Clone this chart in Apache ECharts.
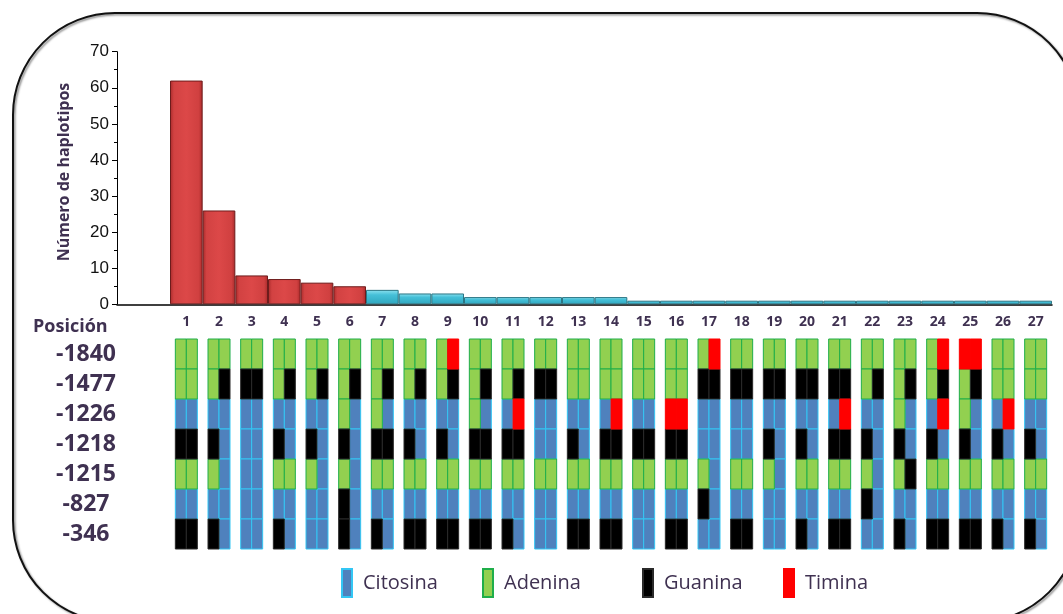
<!DOCTYPE html>
<html>
<head>
<meta charset="utf-8">
<script src="https://cdn.jsdelivr.net/npm/echarts@6/dist/echarts.min.js"></script>
<style>
  html, body { margin: 0; padding: 0; background: #fff; }
  #chart { width: 1063px; height: 614px; }
</style>
</head>
<body>
<div id="chart"></div>
<script>
// Haplotype identifiers (bar categories / genotype columns)
const haplotypes = ['1','2','3','4','5','6','7','8','9','10','11','12','13','14',
  '15','16','17','18','19','20','21','22','23','24','25','26','27'];

// Number of individuals carrying each haplotype
const haplotypeCounts = [62, 26, 8, 7, 6, 5, 4, 3, 3, 2, 2, 2, 2, 2,
  1, 1, 1, 1, 1, 1, 1, 1, 1, 1, 1, 1, 1];

// Promoter positions (rows of the genotype panel)
const positions = ['-1840', '-1477', '-1226', '-1218', '-1215', '-827', '-346'];

// Genotype per haplotype, one two-letter code per position (left / right allele)
const genotypes = [
  ['AA','AA','CC','GG','AA','CC','GG'],
  ['AA','AG','CC','GC','AC','CC','GC'],
  ['AA','GG','CC','CC','CC','CC','CC'],
  ['AA','AG','CC','GC','AA','CC','GC'],
  ['AA','AG','CC','GC','AC','CC','CC'],
  ['AA','AG','AC','GC','AC','GC','GC'],
  ['AA','AG','AC','GG','AA','CC','GC'],
  ['AA','AG','CC','GC','AA','CC','GG'],
  ['AT','AG','CC','GC','AA','CC','GG'],
  ['AA','AG','AC','GG','AA','CC','GG'],
  ['AA','AG','CT','GG','AA','CC','GC'],
  ['AA','GG','CC','CC','AA','CC','CC'],
  ['AA','AA','CC','GC','AA','CC','GG'],
  ['AA','AA','CT','GG','AA','CC','GG'],
  ['AA','AA','CC','GG','AA','CC','CC'],
  ['AA','AA','TT','GG','AA','CC','GG'],
  ['AT','GG','CC','CC','AC','GC','CC'],
  ['AA','GG','CC','CC','AA','CC','GG'],
  ['AA','GG','CC','GC','AC','CC','CC'],
  ['AA','GG','CC','GC','AA','CC','GC'],
  ['AA','GG','CT','GG','AA','CC','GG'],
  ['AA','AG','CC','GC','AC','GC','CC'],
  ['AA','AG','AC','GC','AG','CC','GC'],
  ['AT','AG','CT','GC','AA','CC','GG'],
  ['TT','AG','AC','GC','AA','CC','GG'],
  ['AA','AA','CT','GC','AA','CC','GC'],
  ['AA','AA','CC','GC','AA','CC','GC']
];

// Nucleotide codes and their legend names
const baseCodes = ['C', 'A', 'G', 'T'];
const baseNames = ['Citosina', 'Adenina', 'Guanina', 'Timina'];

// ---- styling ----
const baseStyle = {
  C: { fill: '#4f81bd', stroke: '#33c6f4' },
  A: { fill: '#92d050', stroke: '#1fae4a' },
  G: { fill: '#000000', stroke: '#2a2a2a' },
  T: { fill: '#ff0000', stroke: '#ff0000' }
};
const labelColor = '#3f3151';
const frequentCount = 6; // leading haplotypes drawn in red

// layout (pixels)
const plotLeft = 117, plotRight = 1052, firstBarLeft = 170;
const plotTop = 51.7, plotBottom = 304.3;
const step = (plotRight - firstBarLeft) / haplotypes.length;
const xMin = 0.5 - (firstBarLeft - plotLeft) / step;
const cellWidth = 22;
const legendLefts = [336, 477, 637, 778];

const chart = echarts.init(document.getElementById('chart'));

const redFill = new echarts.graphic.LinearGradient(0, 0, 1, 0, [
  { offset: 0, color: '#a82a2a' },
  { offset: 0.12, color: '#d24242' },
  { offset: 0.5, color: '#dc4848' },
  { offset: 0.88, color: '#d04040' },
  { offset: 1, color: '#a82a2a' }
]);
const cyanFill = new echarts.graphic.LinearGradient(0, 0, 0, 1, [
  { offset: 0, color: '#8fe2f0' },
  { offset: 0.35, color: '#45c0d8' },
  { offset: 1, color: '#2fa6be' }
]);

function halfCellRenderer(code) {
  const st = baseStyle[code];
  return function (params, api) {
    const c = api.coord([api.value(0), api.value(1)]);
    const h = api.size([0, 1])[1];
    const w = cellWidth / 2;
    const x = api.value(2) === 0 ? c[0] - w : c[0];
    return {
      type: 'rect',
      shape: { x: x, y: c[1] - h / 2, width: w, height: h },
      style: { fill: st.fill, stroke: st.stroke, lineWidth: 1 }
    };
  };
}

const genotypeSeries = baseCodes.map(function (code, k) {
  const data = [];
  genotypes.forEach(function (g, i) {
    g.forEach(function (pair, r) {
      for (let s = 0; s < 2; s++) {
        if (pair[s] === code) data.push([i, r, s]);
      }
    });
  });
  return {
    name: baseNames[k],
    type: 'custom',
    xAxisIndex: 1,
    yAxisIndex: 1,
    renderItem: halfCellRenderer(code),
    encode: { x: 0, y: 1 },
    itemStyle: { color: baseStyle[code].fill, borderColor: baseStyle[code].stroke, borderWidth: 1 },
    data: data,
    z: code === 'G' || code === 'T' ? 3 : 2
  };
});

const option = {
  backgroundColor: '#ffffff',
  animation: false,
  graphic: [
    {
      type: 'rect',
      shape: { x: 13, y: 13, width: 1066, height: 609, r: 102 },
      style: {
        fill: 'none', stroke: '#111', lineWidth: 2,
        shadowColor: 'rgba(0,0,0,0.45)', shadowBlur: 2, shadowOffsetX: 1.5, shadowOffsetY: 1.5
      },
      z: -10
    },
    {
      type: 'text',
      left: 33, top: 318,
      style: {
        text: 'Posición', fill: labelColor,
        font: 'bold 18px "Open Sans", sans-serif'
      }
    }
  ],
  legend: baseNames.map(function (name, k) {
    return {
      data: [name],
      left: legendLefts[k], top: 563,
      icon: 'rect',
      itemWidth: 10, itemHeight: 28,
      selectedMode: false,
      textStyle: {
        color: labelColor, fontSize: 20, fontFamily: '"Open Sans", sans-serif',
        padding: [0, 0, 0, 6]
      }
    };
  }),
  grid: [
    {
      left: plotLeft, width: plotRight - plotLeft, top: plotTop, height: plotBottom - plotTop,
      containLabel: false, outerBoundsMode: 'none'
    },
    {
      left: firstBarLeft, width: plotRight - firstBarLeft, top: 339, height: 210,
      containLabel: false, outerBoundsMode: 'none'
    }
  ],
  xAxis: [
    {
      gridIndex: 0, type: 'value', min: xMin, max: haplotypes.length + 0.5,
      axisLine: { show: true, onZero: false, lineStyle: { color: '#000', width: 1.5 } },
      axisTick: { show: false }, axisLabel: { show: false }, splitLine: { show: false }
    },
    {
      gridIndex: 1, type: 'category', data: haplotypes, position: 'top',
      axisLine: { show: false }, axisTick: { show: false },
      axisLabel: {
        margin: 10, color: labelColor, fontWeight: 'bold', fontSize: 14,
        fontFamily: '"Open Sans", sans-serif'
      }
    }
  ],
  yAxis: [
    {
      gridIndex: 0, type: 'value', min: 0, max: 70, interval: 10,
      name: 'Número de haplotipos', nameLocation: 'middle', nameGap: 45,
      nameTextStyle: {
        color: labelColor, fontWeight: 'bold', fontSize: 16,
        fontFamily: '"Open Sans", sans-serif',
        padding: [0, 0, 0, 12]
      },
      axisLine: { show: true, onZero: false, lineStyle: { color: '#000', width: 1 } },
      axisTick: { show: true, length: 5, lineStyle: { color: '#000' } },
      minorTick: { show: true, splitNumber: 2, length: 3, lineStyle: { color: '#000' } },
      axisLabel: {
        margin: 8, color: '#111', fontSize: 17, fontFamily: '"Liberation Sans", Arial, sans-serif'
      },
      splitLine: { show: false }
    },
    {
      gridIndex: 1, type: 'category', data: positions, inverse: true,
      axisLine: { show: false }, axisTick: { show: false },
      axisLabel: {
        align: 'center', margin: 84, color: labelColor, fontWeight: 'bold', fontSize: 23,
        fontFamily: '"Open Sans", sans-serif'
      }
    }
  ],
  series: [
    {
      name: 'Haplotipos',
      type: 'bar',
      xAxisIndex: 0, yAxisIndex: 0,
      barWidth: step,
      data: haplotypeCounts.map(function (v, i) {
        return {
          value: [i + 1, v],
          itemStyle: i < frequentCount
            ? { color: redFill, borderColor: '#6e1c1c', borderWidth: 1 }
            : { color: cyanFill, borderColor: '#2b7684', borderWidth: 1 }
        };
      })
    }
  ].concat(genotypeSeries)
};

chart.setOption(option);
</script>
</body>
</html>
